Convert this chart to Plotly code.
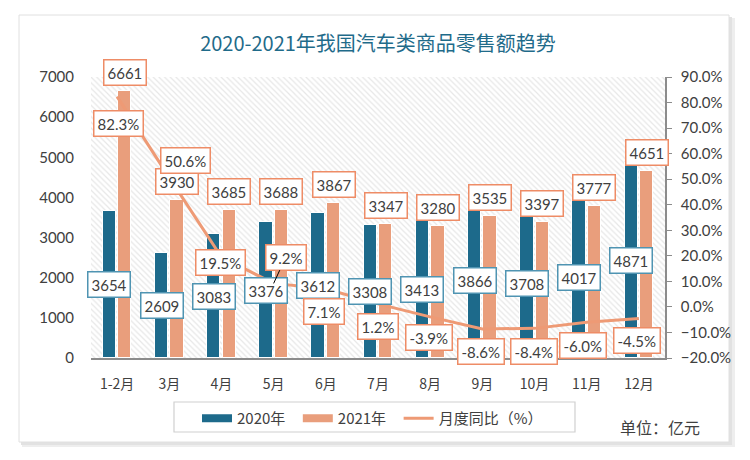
import plotly.graph_objects as go

categories = ["1-2月", "3月", "4月", "5月", "6月", "7月", "8月", "9月", "10月", "11月", "12月"]
sales_2020 = [3654, 2609, 3083, 3376, 3612, 3308, 3413, 3866, 3708, 4017, 4871]
sales_2021 = [6661, 3930, 3685, 3688, 3867, 3347, 3280, 3535, 3397, 3777, 4651]
yoy_pct = [82.3, 50.6, 19.5, 9.2, 7.1, 1.2, -3.9, -8.6, -8.4, -6.0, -4.5]
# pixel offsets of the YoY labels relative to their points (as placed in the reference)
yoy_label_dx = [1, 16, -1, 12, -2, 0, -1, -1, -1, -4, -2]
yoy_label_dy = [27, -17, 5, -26, 23, 23, 21, 23, 23, 23, 22]

C20 = "#1D6A8B"
C21 = "#E99E7C"
CLINE = "#EE9A75"
B20 = "#4F94B2"
B21 = "#EE8C66"
TXT = "#404040"
AXC = "#8c8c8c"
FONT = "Lato, 'Noto Sans CJK SC', sans-serif"
CJK = "'Noto Sans CJK SC', Lato, sans-serif"

PL, PR, PT, PB = 91, 665, 77, 358  # plot area in pixels


def px(xp):
    return (xp - PL) / (PR - PL)


def py(yp):
    return (PB - yp) / (PB - PT)


xs = list(range(len(categories)))
fig = go.Figure()

# hatched plot-area background
fig.add_trace(go.Bar(
    x=[5], y=[7000], width=[11], base=0,
    marker=dict(color="white", line=dict(width=0),
                pattern=dict(shape="\\", fgcolor="#cfcfcf", bgcolor="white", size=4, solidity=0.3)),
    hoverinfo="skip", showlegend=False))

fig.add_trace(go.Bar(x=xs, y=sales_2020, offset=-0.275, width=0.255, name="2020年",
                     marker=dict(color=C20, line=dict(color="white", width=1)), showlegend=False))
fig.add_trace(go.Bar(x=xs, y=sales_2021, offset=0.02, width=0.255, name="2021年",
                     marker=dict(color=C21, line=dict(color="white", width=1)), showlegend=False))
fig.add_trace(go.Scatter(x=xs, y=[v / 100 for v in yoy_pct], yaxis="y2", mode="lines",
                         line=dict(color=CLINE, width=3), name="月度同比（%）", showlegend=False))

# legend proxies
fig.add_trace(go.Scatter(x=[None], y=[None], mode="lines", line=dict(color=C20, width=8), name="2020年\u2002"))
fig.add_trace(go.Scatter(x=[None], y=[None], mode="lines", line=dict(color=C21, width=8), name="2021年\u2002"))
fig.add_trace(go.Scatter(x=[None], y=[None], mode="lines", line=dict(color=CLINE, width=3), name="月度同比（%）"))

ann = []
for i, v in enumerate(sales_2020):
    ann.append(dict(x=i - 0.1475, y=v / 2, xref="x", yref="y", text=str(v), showarrow=False,
                    font=dict(family=FONT, size=15, color=TXT), bgcolor="white",
                    bordercolor=B20, borderwidth=1.5, borderpad=3, yanchor="middle"))
for i, v in enumerate(sales_2021):
    ann.append(dict(x=i + 0.1475, y=v, xref="x", yref="y", text=str(v), showarrow=False,
                    font=dict(family=FONT, size=15, color=TXT), bgcolor="white",
                    bordercolor=B21, borderwidth=1.5, borderpad=3, yanchor="bottom", yshift=5))
for i, v in enumerate(yoy_pct):
    base = dict(x=i, y=v / 100, xref="x", yref="y2", text=f"{v:.1f}%",
                font=dict(family=FONT, size=15, color=TXT), bgcolor="white",
                bordercolor=B21, borderwidth=1.5, borderpad=3)
    if i == 3:
        base.update(showarrow=True, ax=yoy_label_dx[i], ay=yoy_label_dy[i], axref="pixel", ayref="pixel",
                    arrowhead=0, arrowwidth=1, arrowcolor="black", standoff=0)
    else:
        base.update(showarrow=False, xshift=yoy_label_dx[i], yshift=-yoy_label_dy[i])
    ann.append(base)

ann.append(dict(x=px(660), y=py(427), xref="paper", yref="paper", text="单位：亿元",
                showarrow=False, font=dict(family=CJK, size=16, color=TXT), xanchor="center", yanchor="middle"))

shapes = [
    # soft shadow of the card
    dict(type="rect", xref="paper", yref="paper", x0=px(22), x1=px(735), y0=py(447), y1=py(18),
         fillcolor="#eeeeee", line=dict(width=0), layer="below"),
    dict(type="rect", xref="paper", yref="paper", x0=px(21), x1=px(732), y0=py(445), y1=py(17),
         fillcolor="#e2e2e2", line=dict(width=0), layer="below"),
    # card
    dict(type="rect", xref="paper", yref="paper", x0=px(19), x1=px(729), y0=py(442), y1=py(15),
         fillcolor="white", line=dict(color="#e0e0e0", width=1), layer="below"),
    # legend frame
    dict(type="rect", xref="paper", yref="paper", x0=px(174), x1=px(575), y0=py(432), y1=py(402),
         fillcolor="white", line=dict(color="#d0d0d0", width=1.2), layer="below"),
]

fig.update_layout(
    width=750, height=460,
    margin=dict(l=PL, r=750 - PR, t=PT, b=460 - PB),
    paper_bgcolor="white", plot_bgcolor="rgba(0,0,0,0)",
    barmode="overlay",
    title=dict(text="2020-2021年我国汽车类商品零售额趋势", x=0.5, xref="paper", xanchor="center",
               y=(460 - 44) / 460, yanchor="middle",
               font=dict(family=CJK, size=20, color="#1F6B8A")),
    xaxis=dict(range=[-0.5, 10.5], tickvals=xs, ticktext=categories, showgrid=False, zeroline=False,
               showline=True, linecolor=AXC, linewidth=1.5, ticks="", ticklabelstandoff=12,
               tickfont=dict(family=CJK, size=14, color=TXT)),
    yaxis=dict(range=[0, 7000], dtick=1000, showgrid=False, zeroline=False, showline=False,
               ticklabelstandoff=16, tickfont=dict(family=FONT, size=15, color=TXT)),
    yaxis2=dict(range=[-0.2, 0.9], dtick=0.1, tickformat=".1%", overlaying="y", side="right",
                showgrid=False, zeroline=False, showline=True, linecolor=AXC, linewidth=1.5,
                ticks="outside", ticklen=5, tickcolor=AXC, ticklabelstandoff=6,
                tickfont=dict(family=FONT, size=15, color=TXT)),
    legend=dict(orientation="h", x=px(197), xanchor="left", y=py(402), yanchor="top",
                borderwidth=0, bgcolor="rgba(0,0,0,0)",
                font=dict(family=CJK, size=15, color=TXT), itemwidth=30),
    annotations=ann, shapes=shapes, bargap=0,
)

fig.write_html("out.html", post_script="document.body.style.margin='0';",
               config={"displayModeBar": False})
